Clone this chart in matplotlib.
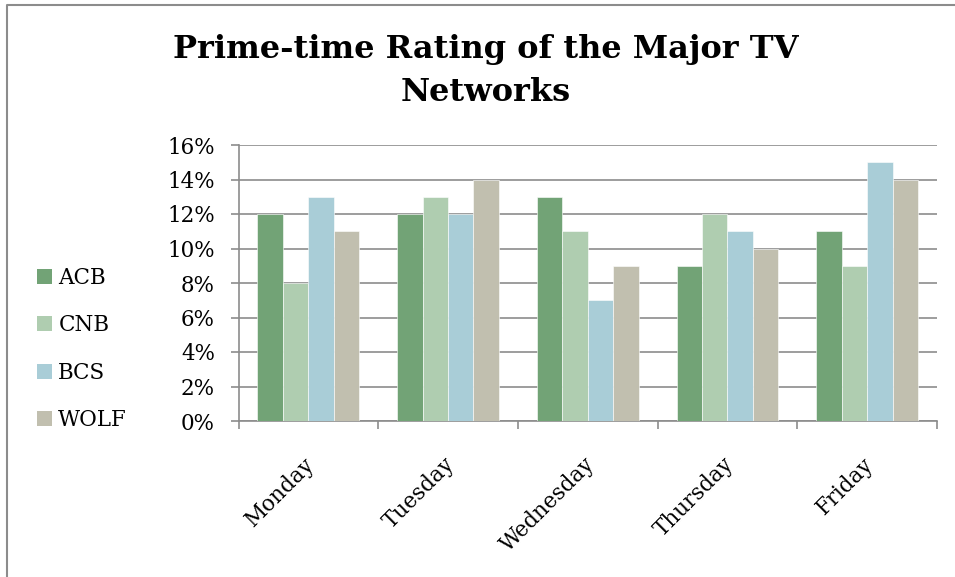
import matplotlib
matplotlib.use("Agg")
import matplotlib.pyplot as plt
import matplotlib.transforms as mtransforms
from matplotlib.patches import Patch
from matplotlib.lines import Line2D
import numpy as np

days = ["Monday", "Tuesday", "Wednesday", "Thursday", "Friday"]
networks = ["ACB", "CNB", "BCS", "WOLF"]
acb = [12, 12, 13, 9, 11]
cnb = [8, 13, 11, 12, 9]
bcs = [13, 12, 7, 11, 15]
wolf = [11, 14, 9, 10, 14]
series = [acb, cnb, bcs, wolf]
colors = ["#72A376", "#AFCDB0", "#A9CDD7", "#C1BFAF"]
yticks = [0, 2, 4, 6, 8, 10, 12, 14, 16]

plt.rcParams['font.family'] = ['DejaVu Serif']

W, H = 955, 577
fig = plt.figure(figsize=(W / 100, H / 100), dpi=100)
ax = fig.add_axes([238.5 / W, 1 - 421 / H, (937 - 238.5) / W, (421 - 145) / H])

gray = "#8C8C8C"
x = np.arange(len(days))
bw = 0.182
for i, (vals, c, name) in enumerate(zip(series, colors, networks)):
    ax.bar(x + (i - 1.5) * bw, vals, width=bw, color=c, edgecolor="white",
           linewidth=0.4, label=name, zorder=3)

ax.set_xlim(-0.5, len(days) - 0.5)
ax.set_ylim(0, 16)
ax.set_yticks(yticks)
ax.set_yticklabels([f"{v}%" for v in yticks], fontsize=15.5)
ax.yaxis.grid(True, color=gray, linewidth=1.2, zorder=0)
ax.set_axisbelow(True)
ax.tick_params(axis="y", length=6, width=1.2, color=gray, pad=11)

ax.set_xticks(x)
ax.set_xticklabels(days, fontsize=15.5, rotation=45, ha="right", va="top")
ax.set_xticks(np.arange(-0.5, len(days)), minor=True)
ax.tick_params(axis="x", which="major", length=0, pad=23)
ax.tick_params(axis="x", which="minor", length=6, width=1.2, color=gray)
offset = mtransforms.ScaledTranslation(11 / 100, 0, fig.dpi_scale_trans)
for lab in ax.get_xticklabels():
    lab.set_transform(lab.get_transform() + offset)

for s in ["top", "right"]:
    ax.spines[s].set_visible(False)
for s in ["left", "bottom"]:
    ax.spines[s].set_color(gray)
    ax.spines[s].set_linewidth(1.2)

handles = [Patch(facecolor=c, edgecolor="none") for c in colors]
fig.legend(handles, networks, loc="center left",
           bbox_to_anchor=(26 / W, 1 - 349 / H), frameon=False, fontsize=15.5,
           handlelength=0.7, handleheight=0.7, handletextpad=0.3,
           labelspacing=1.17, borderpad=0)

fig.text(486 / W, 1 - 71 / H, "Prime-time Rating of the Major TV\nNetworks",
         ha="center", va="center", fontsize=23, fontweight="bold",
         linespacing=1.5)

# outer chart border (top and left)
fig.add_artist(Line2D([7 / W, 7 / W, 1], [0, 1 - 5 / H, 1 - 5 / H],
                      transform=fig.transFigure, color=gray, linewidth=1.5))

fig.savefig("out.png", dpi=100, facecolor="white")
